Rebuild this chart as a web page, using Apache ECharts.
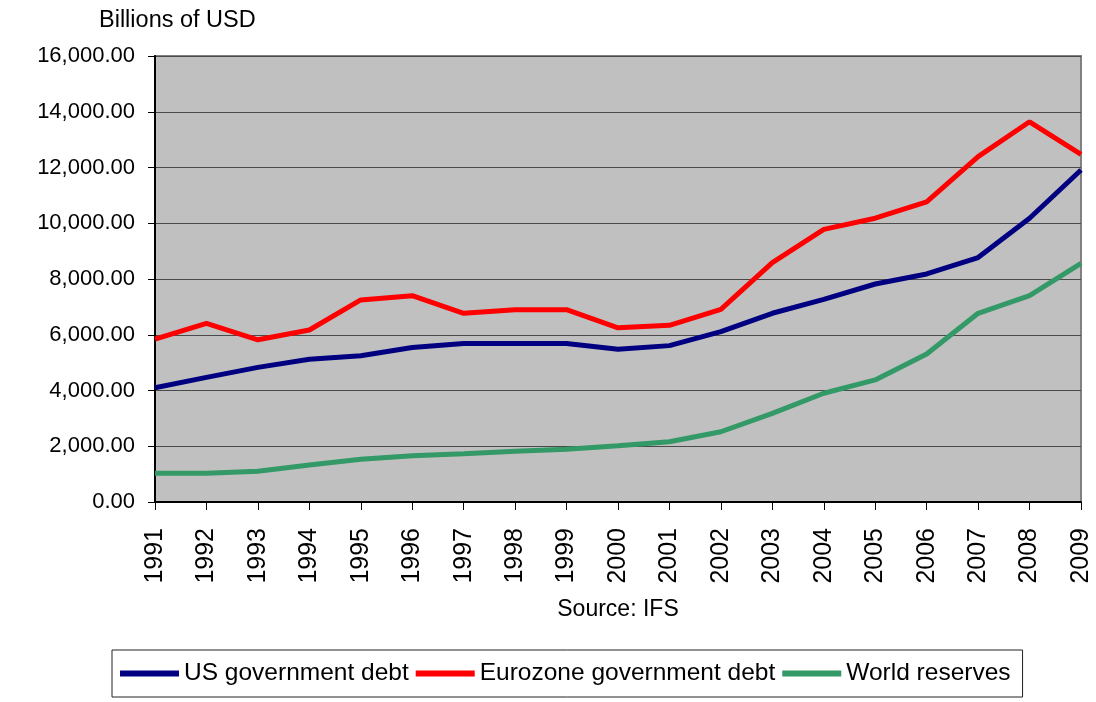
<!DOCTYPE html>
<html>
<head>
<meta charset="utf-8">
<script src="https://cdn.jsdelivr.net/npm/echarts@6/dist/echarts.min.js"></script>
<style>
  html, body { margin: 0; padding: 0; background: #fff; }
  #chart { width: 1096px; height: 702px; }
</style>
</head>
<body>
<div id="chart"></div>
<script>
const years = ["1991", "1992", "1993", "1994", "1995", "1996", "1997", "1998", "1999", "2000",
  "2001", "2002", "2003", "2004", "2005", "2006", "2007", "2008", "2009"];
const usDebt = [4100, 4470, 4830, 5120, 5250, 5540, 5690, 5690, 5690, 5480,
  5610, 6110, 6770, 7270, 7820, 8180, 8770, 10180, 11910];
const euroDebt = [5840, 6410, 5820, 6170, 7250, 7400, 6770, 6900, 6900, 6250,
  6340, 6910, 8590, 9780, 10180, 10770, 12390, 13640, 12470];
const worldReserves = [1030, 1030, 1100, 1330, 1530, 1660, 1730, 1820, 1890, 2020,
  2160, 2520, 3180, 3900, 4380, 5310, 6770, 7400, 8560];

const font = "Liberation Sans";
const chart = echarts.init(document.getElementById("chart"));

function lineSeries(name, data, color) {
  return {
    name: name,
    type: "line",
    data: data,
    symbol: "none",
    lineStyle: { color: color, width: 5 },
    itemStyle: { color: color },
  };
}

chart.setOption({
  animation: false,
  textStyle: { fontFamily: font },
  title: {
    text: "Billions of USD",
    left: 94,
    top: 4,
    textStyle: { fontFamily: font, fontSize: 23.5, fontWeight: "normal", color: "#000" },
  },
  grid: {
    left: 155,
    right: 15,
    top: 56,
    bottom: 200,
    show: true,
    backgroundColor: "#C0C0C0",
    borderColor: "#808080",
    borderWidth: 2,
  },
  legend: {
    left: 112,
    top: 650,
    padding: [11, 12, 11, 8],
    borderColor: "#222",
    borderWidth: 1,
    itemWidth: 59,
    itemHeight: 6,
    itemGap: 7,
    icon: "rect",
    textStyle: { fontFamily: font, fontSize: 24.5, color: "#000" },
    data: ["US government debt", "Eurozone government debt", "World reserves"],
  },
  xAxis: {
    type: "category",
    data: years,
    boundaryGap: false,
    name: "Source: IFS",
    nameLocation: "middle",
    nameGap: 96,
    nameTextStyle: { fontFamily: font, fontSize: 23, color: "#000" },
    axisLine: { lineStyle: { color: "#000", width: 2 } },
    axisTick: { show: true, length: 8, lineStyle: { color: "#000", width: 1 } },
    axisLabel: { rotate: 90, fontFamily: font, fontSize: 25, color: "#000", margin: 26 },
    splitLine: { show: false },
  },
  yAxis: {
    type: "value",
    min: 0,
    max: 16000,
    interval: 2000,
    axisLine: { show: true, lineStyle: { color: "#000", width: 2 } },
    axisTick: { show: true, length: 7, lineStyle: { color: "#000", width: 1 } },
    axisLabel: {
      fontFamily: font,
      fontSize: 22,
      color: "#000",
      margin: 20,
      formatter: (v) => v.toLocaleString("en-US", { minimumFractionDigits: 2, maximumFractionDigits: 2 }),
    },
    splitLine: { show: true, lineStyle: { color: "#4a4a4a", width: 1 } },
  },
  series: [
    lineSeries("US government debt", usDebt, "#000080"),
    lineSeries("Eurozone government debt", euroDebt, "#FF0000"),
    lineSeries("World reserves", worldReserves, "#339966"),
  ],
});
</script>
</body>
</html>
